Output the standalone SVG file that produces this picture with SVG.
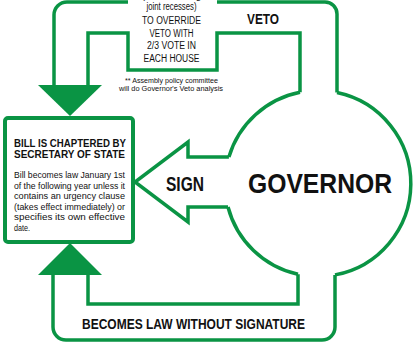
<svg xmlns="http://www.w3.org/2000/svg" width="413" height="347" viewBox="0 0 413 347">
<style>
.ln{fill:none;stroke:#0a9444;stroke-width:3.5;stroke-linejoin:miter;stroke-linecap:butt}
.hd{fill:#0a9444;stroke:none}
.t{font-family:"Liberation Sans Narrow","Arial Narrow","Liberation Sans",Arial,sans-serif;fill:#111}
.b{font-weight:bold}
</style>
<rect width="413" height="347" fill="#fff"/>
<g id="connectors">
  <g id="veto">
    <path class="ln" d="M337,92.5 V14 A12,12 0 0 0 325,2 H217"/>
    <path class="ln" d="M128,2 H67 A13,13 0 0 0 54,15 V86"/>
    <path class="ln" d="M88,86 V33 H128 V70 H217 V33 H300 V92.3"/>
    <polygon class="hd" points="38,85 102,85 70,116"/>
  </g>
  <g id="sign">
    <path class="ln" d="M228.9,157 H188 V142 L135,182 L188,222 V207 H228"/>
  </g>
  <g id="without-signature">
    <path class="ln" d="M335,274.9 V327 A13,13 0 0 1 322,340 H66 A13,13 0 0 1 53,327 V274"/>
    <path class="ln" d="M88,274 V304 H298 V274.3"/>
    <polygon class="hd" points="38,275 102,275 70,243"/>
  </g>
  <text class="t b" x="247" y="24" font-size="14.5" textLength="32" lengthAdjust="spacingAndGlyphs">VETO</text>
  <g class="t" font-size="10" text-anchor="middle">
    <text x="171.5" y="-1.5">(not including</text>
    <text x="171.5" y="10" textLength="50" lengthAdjust="spacingAndGlyphs">joint recesses)</text>
    <text x="171.5" y="24" textLength="59" lengthAdjust="spacingAndGlyphs">TO OVERRIDE</text>
    <text x="171.5" y="37" textLength="44" lengthAdjust="spacingAndGlyphs">VETO WITH</text>
    <text x="171.5" y="49" textLength="49" lengthAdjust="spacingAndGlyphs">2/3 VOTE IN</text>
    <text x="171.5" y="61.5" textLength="56" lengthAdjust="spacingAndGlyphs">EACH HOUSE</text>
  </g>
  <g class="t" font-size="7.5" text-anchor="middle">
    <text x="171.5" y="82.5" textLength="93" lengthAdjust="spacingAndGlyphs">** Assembly policy committee</text>
    <text x="171" y="90.5" textLength="104" lengthAdjust="spacingAndGlyphs">will do Governor's Veto analysis</text>
  </g>
  <text class="t b" x="166" y="191" font-size="20" textLength="38" lengthAdjust="spacingAndGlyphs">SIGN</text>
  <text class="t b" x="82" y="329" font-size="15.5" textLength="223" lengthAdjust="spacingAndGlyphs">BECOMES LAW WITHOUT SIGNATURE</text>
</g>
<g id="governor">
  <path class="ln" d="M337,92.5 A93,93 0 0 1 335,274.9"/>
  <path class="ln" d="M298,274.3 A93,93 0 0 1 228,207"/>
  <path class="ln" d="M228.9,157 A93,93 0 0 1 300,92.3"/>
  <text class="t b" x="248" y="193" font-size="28" textLength="144" lengthAdjust="spacingAndGlyphs">GOVERNOR</text>
</g>
<g id="chaptered">
  <rect x="5" y="118" width="128" height="124" rx="3" fill="#fff" stroke="#0a9444" stroke-width="4"/>
  <text class="t b" x="14" y="146.5" font-size="11" textLength="112" lengthAdjust="spacingAndGlyphs">BILL IS CHAPTERED BY</text>
  <text class="t b" x="14" y="158" font-size="11" textLength="111" lengthAdjust="spacingAndGlyphs">SECRETARY OF STATE</text>
  <g class="t" font-size="9.5">
    <text x="14" y="178" textLength="111" lengthAdjust="spacingAndGlyphs">Bill becomes law January 1st</text>
    <text x="14" y="188.6" textLength="111" lengthAdjust="spacingAndGlyphs">of the following year unless it</text>
    <text x="14" y="199.2" textLength="111" lengthAdjust="spacingAndGlyphs">contains an urgency clause</text>
    <text x="14" y="209.8" textLength="111" lengthAdjust="spacingAndGlyphs">(takes effect immediately) or</text>
    <text x="14" y="220.4" textLength="111" lengthAdjust="spacingAndGlyphs">specifies its own effective</text>
    <text x="14" y="231" textLength="16" lengthAdjust="spacingAndGlyphs">date.</text>
  </g>
</g>
</svg>
